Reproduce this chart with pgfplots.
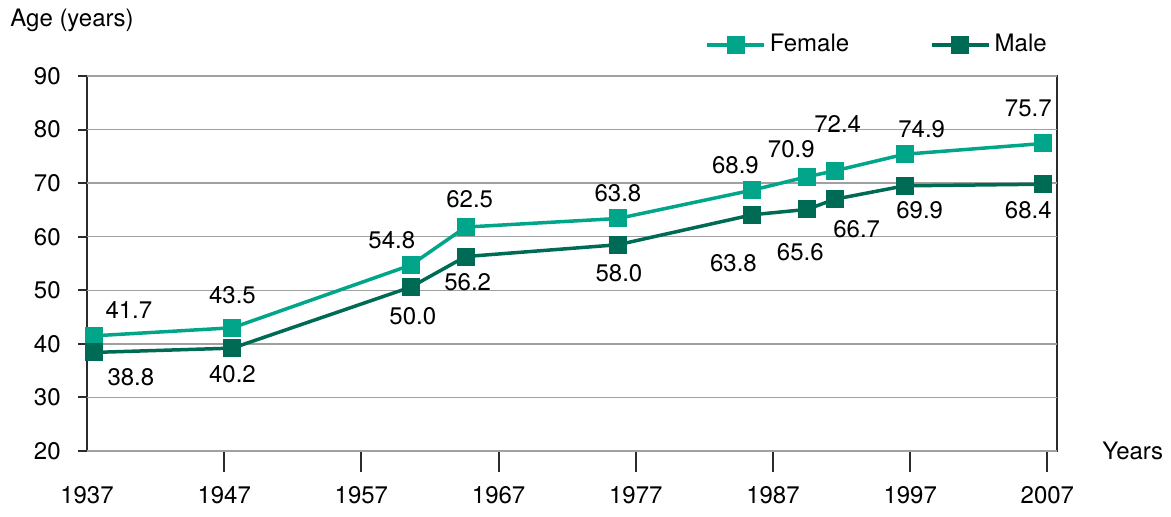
\documentclass[border=0pt]{standalone}
\usepackage{fontspec}
\setmainfont{TeX Gyre Heros}
\usepackage{pgfplots}
\pgfplotsset{compat=1.18}
\usepackage{pgfplotstable}
\usetikzlibrary{calc}
\definecolor{fem}{HTML}{00A58A}
\definecolor{mal}{HTML}{006B54}
\definecolor{axc}{HTML}{2B2B2B}
\definecolor{grd}{HTML}{A0A0A0}

\pgfplotstableread{
x y label dx dy
1937.5 41.5 41.7 17.5 13
1947.6 43.0 43.5 0 16.5
1960.6 54.7 54.8 -9.5 12.5
1964.6 61.8 62.5 2 14
1975.7 63.4 63.8 0 12.5
1985.5 68.7 68.9 -8.5 12.5
1989.5 71.2 70.9 -8 14
1991.5 72.3 72.4 1.5 23.5
1996.6 75.4 74.9 8.5 12.5
2006.7 77.4 75.7 -7.5 17.5
}\female

\pgfplotstableread{
x y label dx dy
1937.5 38.4 38.8 18.5 -12.5
1947.6 39.2 40.2 0 -13
1960.6 50.6 50.0 1 -14.5
1964.6 56.3 56.2 1 -13
1975.7 58.5 58.0 0.5 -14
1985.5 64.1 63.8 -9.5 -24
1989.5 65.1 65.6 -3.5 -21.5
1991.5 67.0 66.7 11 -15
1996.6 69.5 69.9 7.5 -12
2006.7 69.8 68.4 -7.5 -13
}\male

\begin{document}
\fontsize{12pt}{14pt}\selectfont
\begin{tikzpicture}
\begin{axis}[
  width=485pt, height=187.5pt, scale only axis,
  xmin=1937, xmax=2007.7, ymin=20, ymax=90,
  xtick={1947,1957,...,2007},
  extra x ticks={1937},
  extra x tick style={major tick length=0pt, grid=none, tick label style={yshift=-10.5pt}},
  ytick=\empty,
  extra y ticks={20,30,...,90},
  extra y tick style={major tick length=4.5pt, ymajorgrids=true},
  x tick label style={/pgf/number format/1000 sep={}, yshift=-3pt},
  /pgf/number format/assume math mode=true,
  tick label style={font=\fontsize{12pt}{14pt}\selectfont},
  y tick label style={xshift=-4.5pt},
  tick align=outside,
  major tick length=10.5pt,
  xtick pos=bottom, ytick pos=left,
  every tick/.style={axc, line width=1pt},
  ymajorgrids,
  major grid style={grd, line width=0.75pt},
  axis line style={axc, line width=1pt},
  clip=false,
  xlabel={Years},
  xlabel style={at={(rel axis cs:1,0)}, anchor=west, inner sep=0pt, xshift=22.5pt, yshift=0pt, font=\fontsize{12pt}{14pt}\selectfont},
  legend columns=2,
  legend style={at={(0.637,1)}, anchor=west, yshift=15.5pt, draw=none, fill=none,
    inner sep=0pt, font=\fontsize{12pt}{14pt}\selectfont,
    /tikz/every even column/.append style={column sep=38.5pt}},
  legend cell align=left,
  legend image code/.code={\draw[#1, mark repeat=2, mark phase=2] plot coordinates {(0pt,0pt) (14.25pt,0pt) (28.5pt,0pt)};},
  nodes near coords,
  point meta=explicit symbolic,
  visualization depends on={\thisrow{dx} \as \dx},
  visualization depends on={\thisrow{dy} \as \dy},
  every node near coord/.append style={anchor=center, xshift=\dx pt, yshift=\dy pt, text=black, font=\fontsize{12pt}{14pt}\selectfont},
]
\addplot[fem, line width=1.75pt, mark=square*, mark size=4.25pt, mark options={solid, fill=fem, draw=fem, line width=0pt}]
  table[x=x, y=y, meta=label] {\female};
\addlegendentry{Female}
\addplot[mal, line width=1.75pt, mark=square*, mark size=4.25pt, mark options={solid, fill=mal, draw=mal, line width=0pt}]
  table[x=x, y=y, meta=label] {\male};
\addlegendentry{Male}
\node[anchor=west, inner sep=0pt, font=\fontsize{12pt}{14pt}\selectfont] at (rel axis cs:0,1) [xshift=-38.5pt, yshift=28pt] {Age (years)};
\path[draw=none] ($(rel axis cs:0,1)+(-43.5pt,38pt)$) rectangle ($(rel axis cs:1,0)+(57pt,-33pt)$);
\end{axis}
\end{tikzpicture}
\end{document}
